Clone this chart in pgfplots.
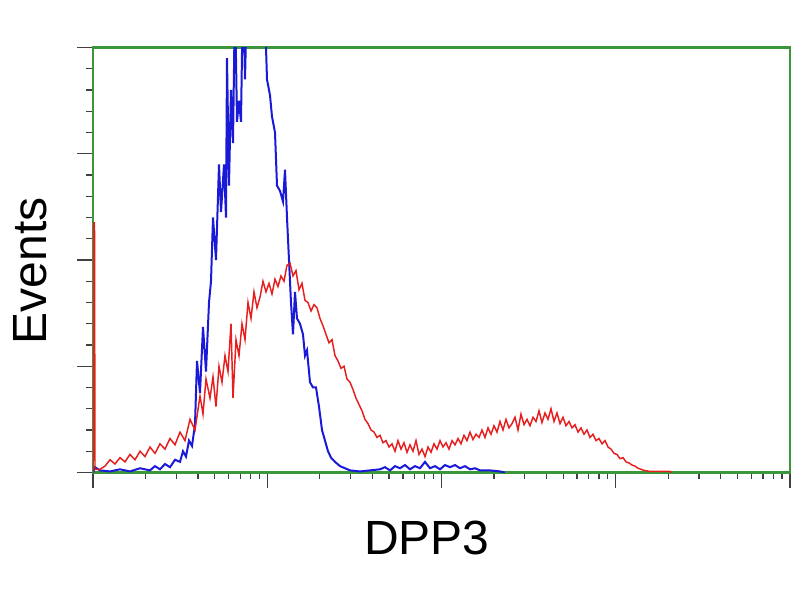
\documentclass[border=0pt]{standalone}
\usepackage{pgfplots}
\pgfplotsset{compat=1.18}
\usepackage{fontspec}
\setmainfont{Liberation Sans}
\definecolor{spine}{RGB}{60,150,60}
\definecolor{redline}{RGB}{230,30,30}
\definecolor{blueline}{RGB}{25,25,215}
\begin{document}
\begin{tikzpicture}[x=0.75pt,y=0.75pt]
\path (0,0) rectangle (800,600);
\begin{axis}[
  at={(93,120)}, anchor=south west,
  width=522.75pt, height=318.75pt, scale only axis,
  xmin=0, xmax=697, ymin=0, ymax=4,
  axis line style={spine, line width=2pt},
  tick align=outside,
  xtick={0,174.25,348.5,522.75,697},
  minor xtick={52.4,83.2,104.9,121.8,135.6,147.3,157.4,166.3,
    226.7,257.5,279.2,296.1,309.9,321.6,331.7,340.6,
    400.9,431.7,453.4,470.3,484.1,495.8,505.9,514.8,
    575.2,606.0,627.7,644.6,658.4,670.1,680.2,689.1},
  ytick={0,1,2,3,4}, minor y tick num=4,
  xticklabels={}, yticklabels={},
  major tick length=12pt, minor tick length=5pt,
  every tick/.style={black!75, line width=1pt},
  xtick pos=bottom, ytick pos=left,
  clip=true,
]
\addplot[blueline, line width=1.5pt] coordinates {
(0,0)(2,0.05)(7,0.02)(17,0.01)(27,0.03)(37,0.01)(47,0.04)(57,0.02)(62,0.06)(67,0.03)
(72,0.08)(77,0.05)(82,0.12)(87,0.10)(90,0.20)(93,0.15)(96,0.30)(99,0.25)(102,0.45)(104,1.05)
(107,0.75)(110,1.37)(113,0.95)(116,1.60)(118,1.80)(120,2.40)(123,2.00)(126,2.90)(128,2.45)(131,2.90)
(133,2.40)(134,3.90)(136,2.70)(138,3.60)(140,3.10)(142,4.5)(144,3.30)(146,3.50)(148,3.30)(150,4.6)
(152,3.70)(154,4.5)(157,4.7)(162,4.8)(167,4.6)(172,4.3)(174,3.70)(177,3.55)(179,3.35)(182,3.20)
(184,2.70)(187,2.65)(190,2.55)(192,2.85)(194,2.40)(196,2.00)(198,1.60)(200,1.30)(202,1.70)(204,1.45)
(207,1.40)(210,1.30)(212,1.10)(214,1.15)(217,0.85)(220,0.80)(223,0.80)(226,0.62)(229,0.40)(232,0.30)
(235,0.20)(238,0.14)(242,0.10)(247,0.06)(252,0.04)(257,0.02)(267,0.01)(277,0.02)(287,0.03)(292,0.05)
(297,0.02)(302,0.06)(307,0.04)(312,0.07)(317,0.03)(322,0.06)(327,0.04)(332,0.10)(337,0.04)(342,0.06)
(347,0.03)(352,0.07)(357,0.05)(362,0.07)(367,0.04)(372,0.06)(377,0.03)(382,0.04)(387,0.02)(397,0.02)
(407,0.01)(412,0)
};
\addplot[redline, line width=1.1pt] coordinates {
(0,0)(0.5,2.35)(1.5,2.35)(2,0.03)
(7,0.03)(12,0.06)(17,0.12)(22,0.08)(27,0.14)(32,0.10)(37,0.17)(42,0.12)(47,0.20)(52,0.15)
(57,0.24)(62,0.18)(67,0.27)(72,0.22)(77,0.32)(82,0.26)(87,0.38)(92,0.30)(97,0.50)(102,0.40)
(107,0.72)(110,0.55)(113,0.88)(117,0.70)(120,0.90)(123,0.62)(126,1.00)(129,0.85)(132,1.10)(135,0.95)
(138,1.40)(140,0.70)(143,1.25)(146,1.10)(149,1.40)(152,1.25)(155,1.60)(158,1.45)(161,1.70)(164,1.55)
(167,1.65)(170,1.80)(173,1.70)(176,1.78)(179,1.68)(182,1.82)(185,1.75)(188,1.85)(191,1.80)(194,1.95)
(197,1.97)(200,1.85)(203,1.90)(206,1.72)(209,1.78)(212,1.62)(215,1.60)(218,1.52)(221,1.58)(224,1.55)
(227,1.45)(230,1.38)(233,1.30)(236,1.22)(239,1.25)(242,1.10)(245,1.05)(248,0.98)(251,1.00)(254,0.88)
(257,0.85)(260,0.78)(263,0.70)(266,0.64)(269,0.58)(272,0.50)(275,0.46)(278,0.40)(281,0.38)(284,0.33)
(287,0.35)(290,0.28)(293,0.30)(296,0.24)(299,0.27)(302,0.20)(305,0.30)(308,0.22)(311,0.28)(314,0.19)
(317,0.26)(320,0.20)(323,0.30)(326,0.17)(329,0.22)(332,0.15)(335,0.24)(338,0.19)(341,0.27)(344,0.22)
(347,0.30)(350,0.24)(353,0.28)(356,0.22)(359,0.30)(362,0.26)(365,0.32)(368,0.27)(371,0.35)(374,0.30)
(377,0.38)(380,0.31)(383,0.36)(386,0.33)(389,0.40)(392,0.33)(395,0.42)(398,0.36)(401,0.44)(404,0.38)
(407,0.48)(410,0.40)(413,0.50)(416,0.42)(419,0.46)(422,0.52)(425,0.40)(428,0.55)(431,0.45)(434,0.50)
(437,0.44)(440,0.52)(443,0.48)(446,0.58)(449,0.47)(452,0.56)(455,0.50)(458,0.60)(461,0.48)(464,0.56)
(467,0.46)(470,0.52)(473,0.44)(476,0.48)(479,0.42)(482,0.45)(485,0.38)(488,0.42)(491,0.36)(494,0.40)
(497,0.33)(500,0.36)(503,0.30)(506,0.32)(509,0.27)(512,0.30)(515,0.24)(518,0.22)(521,0.18)(524,0.17)
(527,0.13)(530,0.14)(533,0.10)(536,0.09)(539,0.07)(542,0.06)(545,0.04)(548,0.03)(551,0.02)(557,0.01)
(577,0.01)(579,0)
};
\end{axis}
\node[rotate=90, font=\fontsize{36}{40}\selectfont] at (30,329) {Events};
\node[font=\fontsize{36}{40}\selectfont] at (427,62) {DPP3};
\end{tikzpicture}
\end{document}
